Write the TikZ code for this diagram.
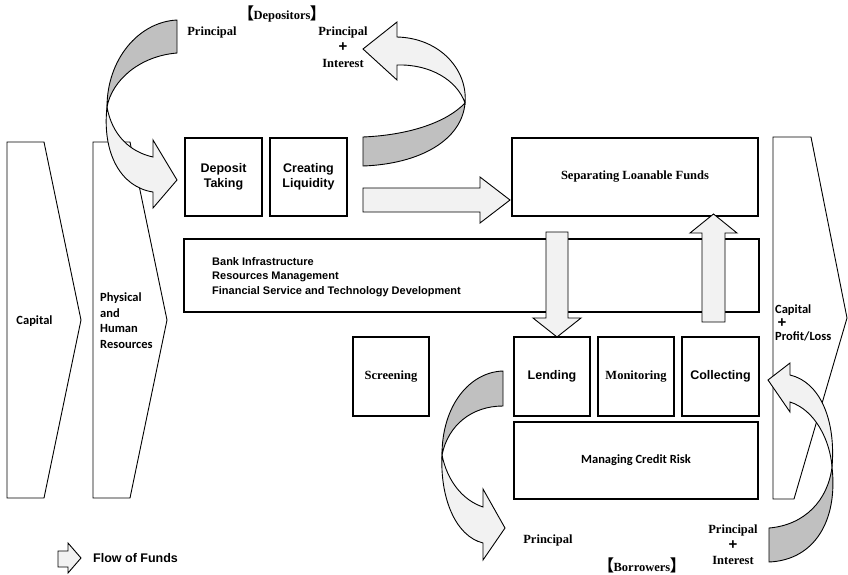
\documentclass[tikz,border=0pt]{standalone}
\usepackage{fontspec}
\setmainfont{Liberation Serif}
\newfontfamily\arialf{Liberation Sans}
\newfontfamily\calf{Carlito}
\newfontfamily\cjk{Noto Sans CJK SC}
\newcommand\lbrk{{\cjk\fontsize{16}{16}\selectfont 【}}
\newcommand\rbrk{{\cjk\fontsize{16}{16}\selectfont 】}}
\definecolor{lightf}{HTML}{F2F2F2}
\definecolor{darkf}{HTML}{C0C0C0}
\tikzset{
  box/.style={draw, line width=1.3pt, inner sep=0pt, fill=white},
  chev/.style={draw, line width=0.9pt, fill=white},
  farrow/.style={draw, line width=0.9pt, fill=lightf, line join=miter},
  barrow/.style={draw, line width=0.9pt, fill=darkf},
  sanslbl/.style={font=\arialf\bfseries\fontsize{12.5}{14.5}\selectfont, align=center, inner sep=0pt},
  seriflbl/.style={font=\bfseries\fontsize{12.5}{14.5}\selectfont, align=center, inner sep=0pt},
  callbl/.style={font=\calf\bfseries\fontsize{12.5}{15.5}\selectfont, align=left, inner sep=0pt},
  plussign/.style={font=\arialf\bfseries\fontsize{15}{15}\selectfont, inner sep=0pt}
}
\begin{document}
\begin{tikzpicture}[x=1pt,y=-1pt]
\useasboundingbox (0,0) rectangle (848,574);

% chevrons
\draw[chev] (7,142) -- (44,142) -- (81,320) -- (44,498) -- (7,498) -- cycle;
\draw[chev] (93,142) -- (130,142) -- (167,320) -- (130,498) -- (93,498) -- cycle;
\draw[chev] (773,137) -- (811,137) -- (847,318) -- (794,499) -- (773,499) -- cycle;
\node[callbl, align=center] (capL) at (34.5,321) {Capital};
\node[callbl, anchor=west] (phys) at (100,320.5) {Physical\\and\\Human\\Resources};
\node[callbl, anchor=west] (capR1) at (775,310) {Capital};
\node[plussign] (capR2) at (782,323) {+};
\node[callbl, anchor=west] (capR3) at (775,336) {Profit/Loss};

% boxes
\node[box, minimum width=77, minimum height=78] (dep) at (223.5,177) {};
\node[sanslbl] at (dep.center) {Deposit\\Taking};
\node[box, minimum width=77, minimum height=78] (liq) at (308.5,177) {};
\node[sanslbl] at (liq.center) {Creating\\Liquidity};
\node[box, minimum width=246, minimum height=78] (sep) at (635,177) {};
\node[seriflbl] at (sep.center) {Separating Loanable Funds};
\node[box, minimum width=575, minimum height=73] (bank) at (471.5,275.5) {};
\node[font=\arialf\bfseries\fontsize{11}{14.8}\selectfont, align=left, inner sep=0pt, anchor=west] (banktxt) at (212,277) {Bank Infrastructure\\Resources Management\\Financial Service and Technology Development};
\node[box, minimum width=76, minimum height=79] (scr) at (391,376.5) {};
\node[seriflbl] at (scr.center) {Screening};
\node[box, minimum width=76, minimum height=79] (lend) at (552,376.5) {};
\node[sanslbl] at (lend.center) {Lending};
\node[box, minimum width=76, minimum height=79] (mon) at (636,376.5) {};
\node[seriflbl] at (mon.center) {Monitoring};
\node[box, minimum width=77, minimum height=79] (col) at (720.5,376.5) {};
\node[sanslbl] at (col.center) {Collecting};
\node[box, minimum width=244, minimum height=77] (mcr) at (636,460.5) {};
\node[callbl, align=center] at (mcr.center) {Managing Credit Risk};

% straight block arrows
\draw[farrow] (363,188) -- (480,188) -- (480,177) -- (510,200) -- (480,223) -- (480,212) -- (363,212) -- cycle;
\draw[farrow] (546,232) -- (568,232) -- (568,318) -- (581,318) -- (557,337) -- (533,318) -- (546,318) -- cycle;
\draw[farrow] (702,322) -- (725,322) -- (725,233) -- (737,233) -- (713.5,214) -- (690,233) -- (702,233) -- cycle;

% curved arrow top-left (depositors -> deposit taking)
\draw[barrow] (177,20) .. controls (138,22) and (107,60) .. (107,107)
  .. controls (112,80) and (140,56) .. (177,53) -- cycle;
\draw[farrow] (107,107) .. controls (102,152) and (120,187) .. (153,192)
  -- (153,208) -- (177,180) -- (153,140) -- (153,157)
  .. controls (130,152) and (112,135) .. (107,107) -- cycle;

% curved arrow top-right (creating liquidity -> depositors)
\draw[barrow] (363,137) .. controls (410,135) and (447,122) .. (465,103)
  .. controls (462,140) and (420,164) .. (363,166) -- cycle;
\draw[farrow] (465,103) .. controls (468,70) and (440,38) .. (397,37)
  -- (397,22) -- (363,49) -- (397,80) -- (397,65)
  .. controls (430,64) and (457,80) .. (465,103) -- cycle;

% curved arrow bottom-left (lending -> borrowers)
\draw[barrow] (503,371) .. controls (470,372) and (442,405) .. (442,455)
  .. controls (448,425) and (472,406) .. (503,406) -- cycle;
\draw[farrow] (442,455) .. controls (440,497) and (455,536) .. (483,543)
  -- (483,560) -- (505,528) -- (483,489) -- (483,507)
  .. controls (462,500) and (447,480) .. (442,455) -- cycle;

% curved arrow bottom-right (borrowers -> collecting)
\draw[barrow] (769,528) .. controls (805,525) and (828,500) .. (832,467)
  .. controls (838,520) and (815,560) .. (769,562) -- cycle;
\draw[farrow] (832,467) .. controls (836,420) and (820,382) .. (790,375)
  -- (790,363) -- (768,380) -- (790,412) -- (790,402)
  .. controls (815,410) and (830,440) .. (832,467) -- cycle;

% labels
\node[seriflbl] (dtitle) at (282,14) {\lbrk\kern-0.5pt Depositors\kern-0.5pt\rbrk};
\node[seriflbl] (p1) at (212,32) {Principal};
\node[seriflbl] (p2) at (343,32) {Principal};
\node[plussign] (p2p) at (343,47.5) {+};
\node[seriflbl] (p2i) at (343,63) {Interest};
\node[seriflbl] (p3) at (548,540) {Principal};
\node[seriflbl] (btitle) at (642,565) {\lbrk\kern-0.5pt Borrowers\kern-0.5pt\rbrk};
\node[seriflbl] (p4) at (733,530) {Principal};
\node[plussign] (p4p) at (733,545) {+};
\node[seriflbl] (p4i) at (733,560) {Interest};

% legend
\draw[farrow] (58,551) -- (68,551) -- (68,543) -- (81,558) -- (68,573) -- (68,567) -- (58,567) -- cycle;
\node[sanslbl, anchor=west] (legend) at (93,558) {Flow of Funds};
\end{tikzpicture}
\end{document}
